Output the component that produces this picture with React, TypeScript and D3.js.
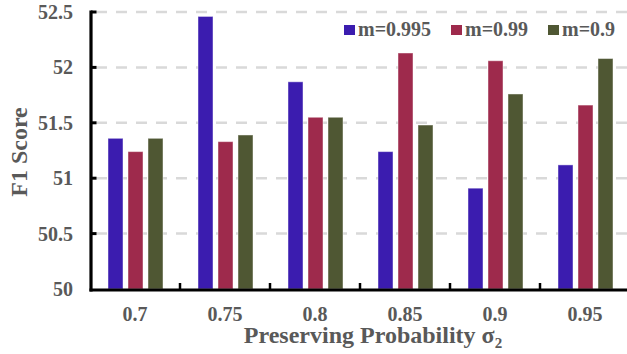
import { useEffect, useRef } from "react";
import * as d3 from "d3";

const categories = ["0.7", "0.75", "0.8", "0.85", "0.9", "0.95"];
const seriesNames = ["m=0.995", "m=0.99", "m=0.9"];
const m0995 = [51.36, 52.46, 51.87, 51.24, 50.91, 51.12];
const m099 = [51.24, 51.33, 51.55, 52.13, 52.06, 51.66];
const m09 = [51.36, 51.39, 51.55, 51.48, 51.76, 52.08];
const yTicks = [50, 50.5, 51, 51.5, 52, 52.5];
const colors = ["#3B1CAF", "#9E2A4C", "#4F5733"];

const W = 627, H = 354;
const font = "'Liberation Serif', 'Times New Roman', serif";
const grey = "#595959";

const Chart = () => {
  const svgRef = useRef<SVGSVGElement>(null);

  useEffect(() => {
    if (!svgRef.current) return;
    const svg = d3.select(svgRef.current);
    svg.selectAll("*").remove();

    const values = [m0995, m099, m09];
    const x0 = d3.scaleBand().domain(categories).range([90, 630]);
    const x1 = d3.scaleBand().domain(seriesNames).range([18, 73]).paddingInner(0.25);
    const y = d3.scaleLinear().domain([50, 52.5]).range([289, 12]);

    // grid
    svg.append("g")
      .selectAll("line")
      .data(yTicks.filter(t => t > 50))
      .join("line")
      .attr("x1", 96)
      .attr("x2", W)
      .attr("y1", d => y(d))
      .attr("y2", d => y(d))
      .attr("stroke", "#d9d9d9")
      .attr("stroke-width", 2.5)
      .attr("stroke-dasharray", "11,9");

    // bars
    const groups = svg.append("g")
      .selectAll("g")
      .data(categories)
      .join("g")
      .attr("transform", d => `translate(${x0(d)},0)`);

    groups.selectAll("rect")
      .data((_, i) => seriesNames.map((s, j) => ({ s, v: values[j][i], j })))
      .join("rect")
      .attr("x", d => x1(d.s)!)
      .attr("y", d => y(d.v))
      .attr("width", x1.bandwidth())
      .attr("height", d => y(50) - y(d.v))
      .attr("fill", d => colors[d.j])
      .attr("stroke", "rgba(255,255,255,0.45)")
      .attr("stroke-width", 1);

    // axes
    svg.append("line")
      .attr("x1", 91).attr("x2", 91)
      .attr("y1", 10.5).attr("y2", 291.5)
      .attr("stroke", "#000").attr("stroke-width", 3.2);
    svg.append("line")
      .attr("x1", 89.5).attr("x2", W)
      .attr("y1", 290).attr("y2", 290)
      .attr("stroke", "#000").attr("stroke-width", 3.2);

    svg.append("g")
      .selectAll("line")
      .data(yTicks.filter(t => t > 50))
      .join("line")
      .attr("x1", 91).attr("x2", 96.5)
      .attr("y1", d => y(d)).attr("y2", d => y(d))
      .attr("stroke", "#000").attr("stroke-width", 3);

    svg.append("g")
      .selectAll("line")
      .data(categories.slice(1))
      .join("line")
      .attr("x1", d => x0(d)!).attr("x2", d => x0(d)!)
      .attr("y1", 283).attr("y2", 290)
      .attr("stroke", "#000").attr("stroke-width", 2.5);

    // tick labels
    svg.append("g")
      .selectAll("text")
      .data(yTicks)
      .join("text")
      .attr("x", 73)
      .attr("y", d => y(d) + 7)
      .attr("text-anchor", "end")
      .attr("font-family", font)
      .attr("font-weight", "bold")
      .attr("font-size", "20px")
      .attr("fill", grey)
      .text(d => d3.format("")(d));

    svg.append("g")
      .selectAll("text")
      .data(categories)
      .join("text")
      .attr("x", d => x0(d)! + x0.bandwidth() / 2)
      .attr("y", 320.5)
      .attr("text-anchor", "middle")
      .attr("font-family", font)
      .attr("font-weight", "bold")
      .attr("font-size", "20px")
      .attr("fill", grey)
      .text(d => d);

    // axis titles
    const xt = svg.append("text")
      .attr("x", 373)
      .attr("y", 343)
      .attr("text-anchor", "middle")
      .attr("font-family", font)
      .attr("font-weight", "bold")
      .attr("font-size", "24px")
      .attr("fill", grey);
    xt.append("tspan").text("Preserving Probability σ");
    xt.append("tspan").attr("font-size", "15px").attr("dy", 5).text("2");

    svg.append("text")
      .attr("transform", "translate(27,152) rotate(-90)")
      .attr("text-anchor", "middle")
      .attr("font-family", font)
      .attr("font-weight", "bold")
      .attr("font-size", "24px")
      .attr("fill", grey)
      .text("F1 Score");

    // legend
    const legendX = [344, 451, 548];
    const lg = svg.append("g")
      .selectAll("g")
      .data(seriesNames)
      .join("g")
      .attr("transform", (_, i) => `translate(${legendX[i]},25)`);
    lg.append("rect")
      .attr("width", 11).attr("height", 10)
      .attr("fill", (_, i) => colors[i]);
    lg.append("text")
      .attr("x", 14)
      .attr("y", 10.5)
      .attr("font-family", font)
      .attr("font-weight", "bold")
      .attr("font-size", "20px")
      .attr("fill", grey)
      .text(d => d);
  }, []);

  return (
    <svg ref={svgRef} width={W} height={H}
      style={{ position: "absolute", left: 0, top: 0, background: "#fff" }} />
  );
};

export default function App() {
  return <Chart />;
}
